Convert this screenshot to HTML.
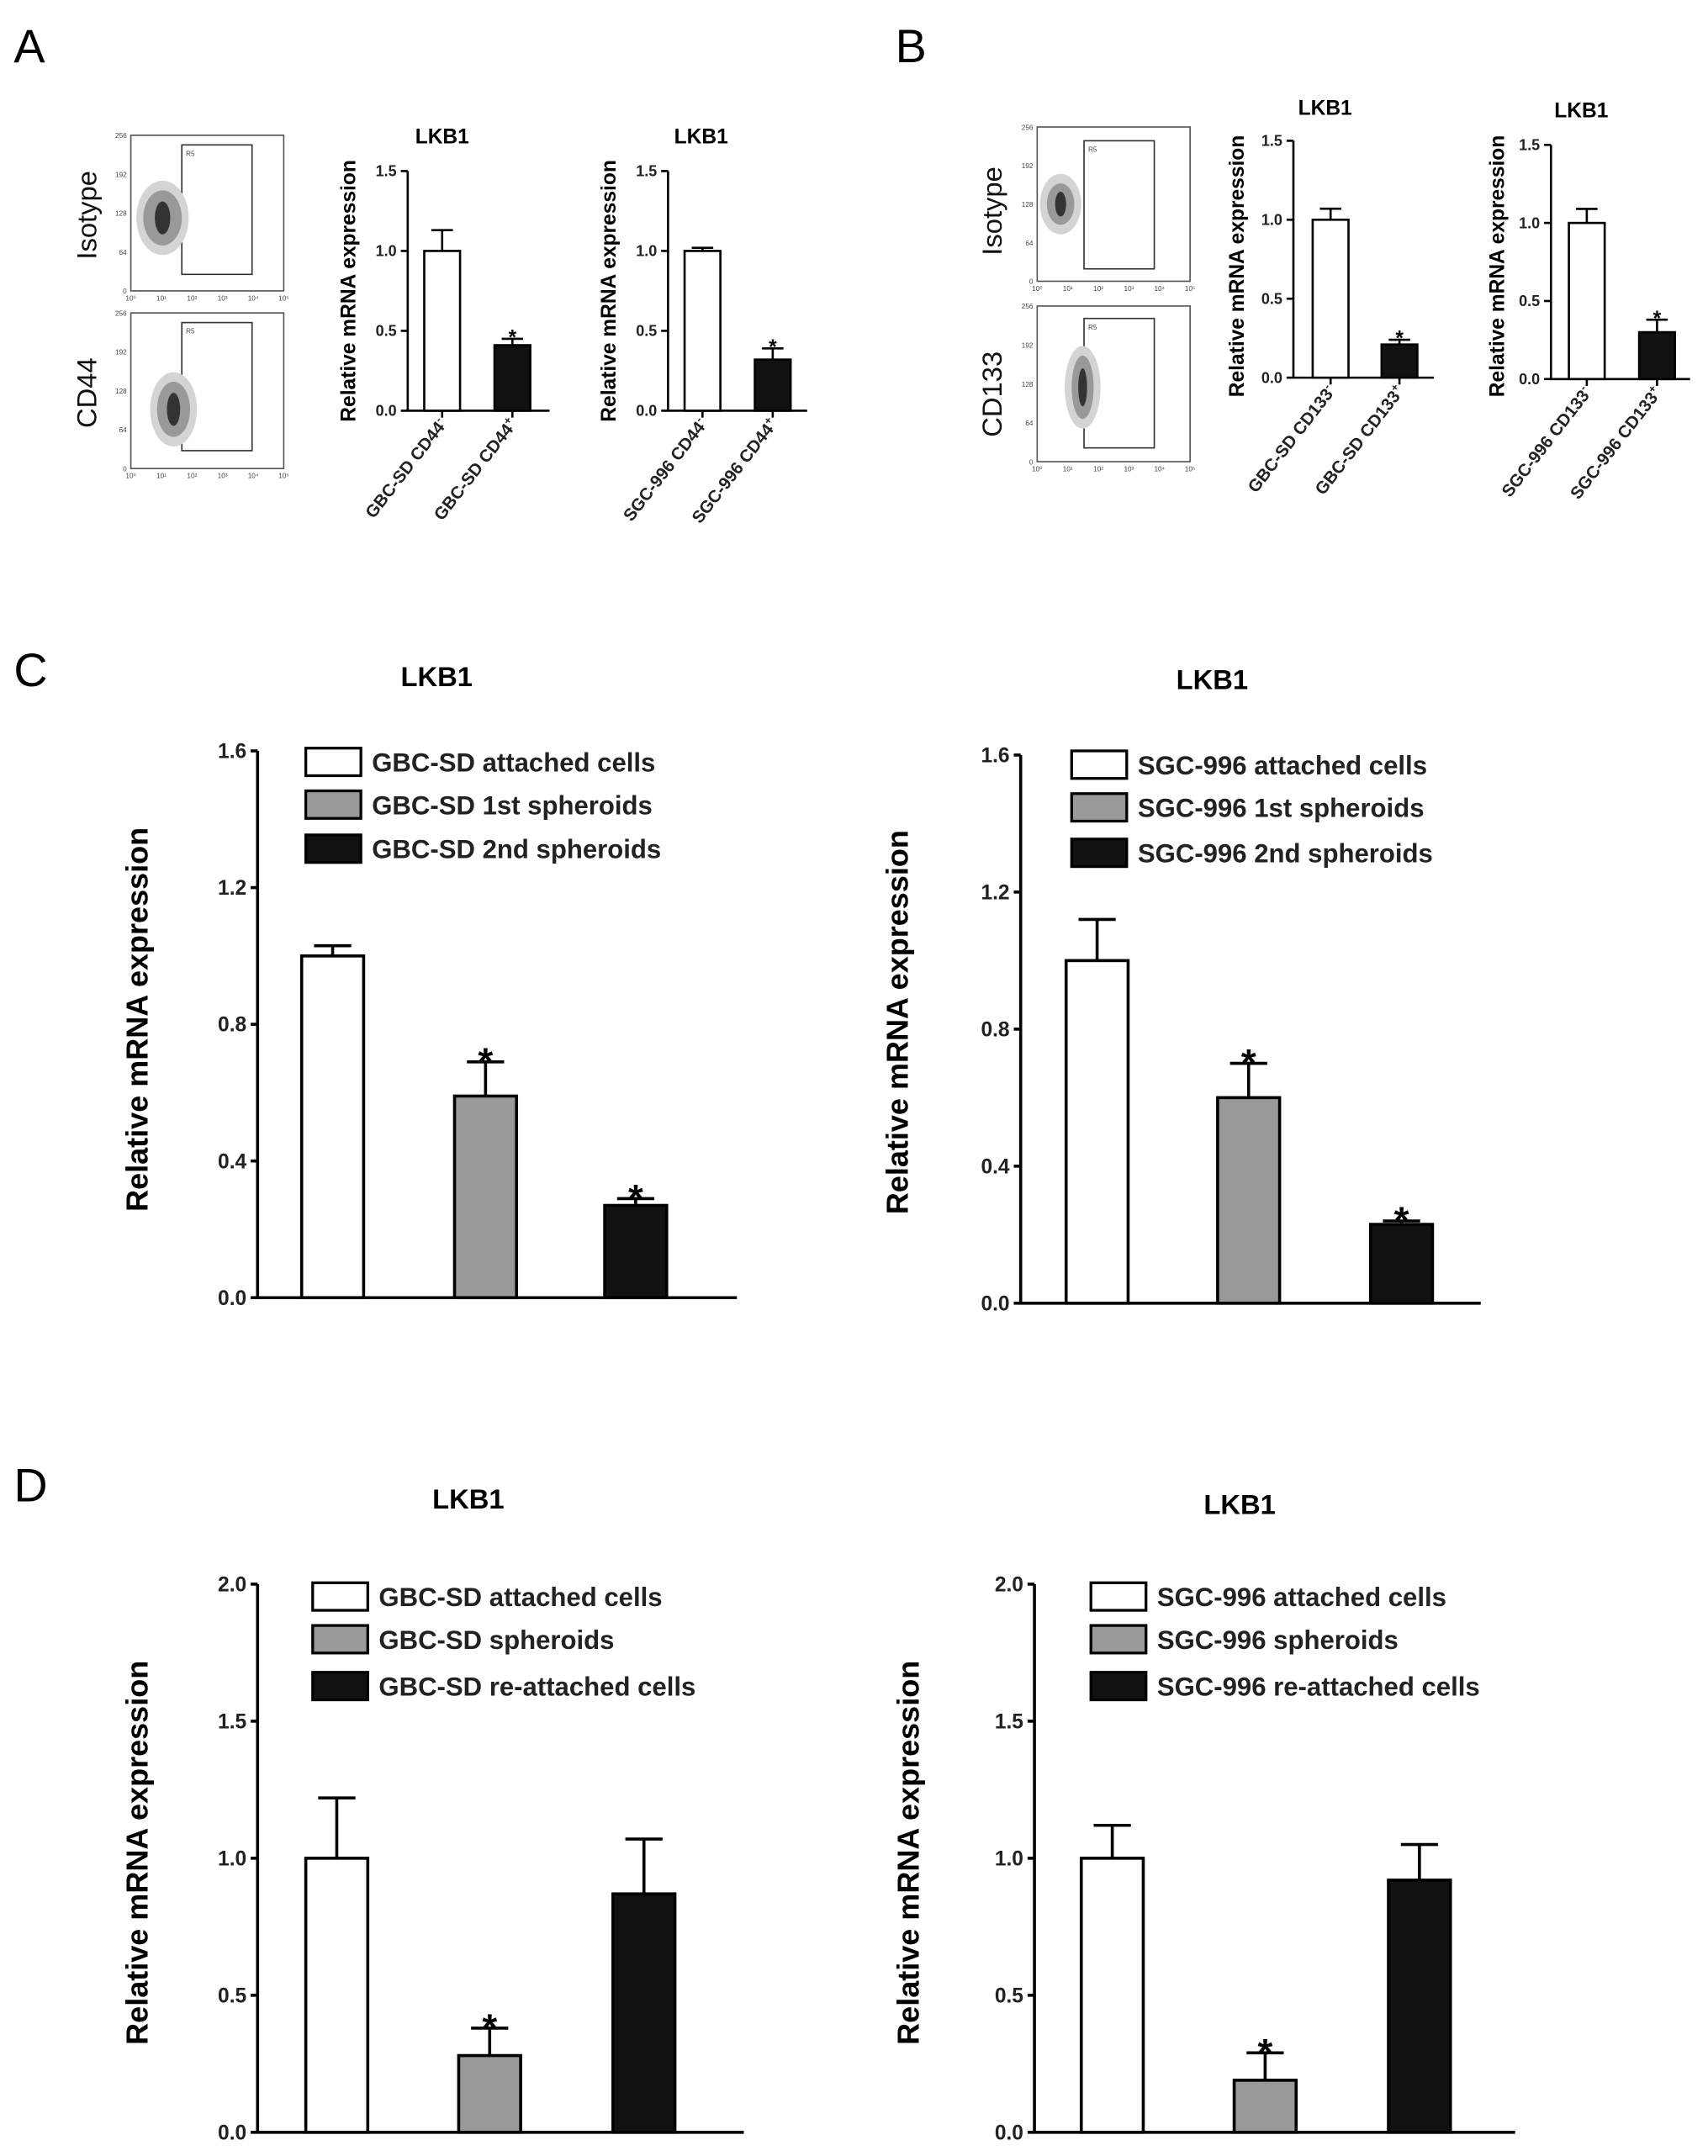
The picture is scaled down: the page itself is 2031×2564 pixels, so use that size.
<!DOCTYPE html>
<html><head><meta charset="utf-8"><style>
html,body{margin:0;padding:0;background:#fff;}
svg{display:block;}
text{font-family:"Liberation Sans",Arial,sans-serif;}
</style></head><body>
<svg id="fig" width="2031" height="2564" viewBox="0 0 1240 1565" xmlns="http://www.w3.org/2000/svg">
<rect x="0" y="0" width="1240" height="1565" fill="#fff"/>
<text x="10" y="45" font-size="34">A</text>
<text x="650" y="45" font-size="34">B</text>
<text x="10" y="498" font-size="34">C</text>
<text x="10" y="1090" font-size="34">D</text>
</svg>
<script>
// ---- data ----
const aCats1 = ["GBC-SD CD44|-", "GBC-SD CD44|+"];
const aVals1 = [1.0, 0.41];
const aErr1 = [0.13, 0.04];
const aSig1 = [false, true];
const aCats2 = ["SGC-996 CD44|-", "SGC-996 CD44|+"];
const aVals2 = [1.0, 0.32];
const aErr2 = [0.02, 0.07];
const aSig2 = [false, true];
const bCats1 = ["GBC-SD CD133|-", "GBC-SD CD133|+"];
const bVals1 = [1.0, 0.21];
const bErr1 = [0.07, 0.03];
const bSig1 = [false, true];
const bCats2 = ["SGC-996 CD133|-", "SGC-996 CD133|+"];
const bVals2 = [1.0, 0.30];
const bErr2 = [0.09, 0.08];
const bSig2 = [false, true];
const cLegend1 = ["GBC-SD attached cells", "GBC-SD 1st spheroids", "GBC-SD 2nd spheroids"];
const cVals1 = [1.0, 0.59, 0.27];
const cErr1 = [0.03, 0.10, 0.02];
const cSig1 = [false, true, true];
const cLegend2 = ["SGC-996 attached cells", "SGC-996 1st spheroids", "SGC-996 2nd spheroids"];
const cVals2 = [1.0, 0.60, 0.23];
const cErr2 = [0.12, 0.10, 0.01];
const cSig2 = [false, true, true];
const dLegend1 = ["GBC-SD attached cells", "GBC-SD spheroids", "GBC-SD re-attached cells"];
const dVals1 = [1.0, 0.28, 0.87];
const dErr1 = [0.22, 0.10, 0.20];
const dSig1 = [false, true, false];
const dLegend2 = ["SGC-996 attached cells", "SGC-996 spheroids", "SGC-996 re-attached cells"];
const dVals2 = [1.0, 0.19, 0.92];
const dErr2 = [0.12, 0.10, 0.13];
const dSig2 = [false, true, false];
const smallTicks = ["0.0", "0.5", "1.0", "1.5"];
const cTicks = ["0.0", "0.4", "0.8", "1.2", "1.6"];
const dTicks = ["0.0", "0.5", "1.0", "1.5", "2.0"];
const flowYTicks = ["0", "64", "128", "192", "256"];
const flowXTicks = ["0", "1", "2", "3", "4", "5"];

const svg = document.getElementById('fig');
const NS = "http://www.w3.org/2000/svg";
function mk(tag, attrs, parent) {
  const e = document.createElementNS(NS, tag);
  for (const k in attrs) e.setAttribute(k, attrs[k]);
  (parent || svg).appendChild(e);
  return e;
}
const fills = ["#fff", "#999", "#111"];

function barChart(L, cats, vals, errs, sigs, ticks, legend, name) {
  const g = mk('g', {});
  
  
  const ymax = parseFloat(ticks[ticks.length - 1]);
  const y = v => L.y0 - (v / ymax) * (L.y0 - L.yTop);
  const ax = mk('path', {d: `M${L.ax},${L.yTop}V${L.y0}H${L.axEnd}`, stroke: '#000', 'stroke-width': L.sw, fill: 'none'}, g);
  
  
  ticks.forEach((t, i) => {
    const ty = y(parseFloat(t));
    mk('line', {x1: L.ax - 5, x2: L.ax, y1: ty, y2: ty, stroke: '#000', 'stroke-width': L.sw}, g);
    const tl = mk('text', {x: L.ax - 8, y: ty + L.tf * 0.35, 'font-size': L.tf, 'font-weight': 'bold', 'text-anchor': 'end', fill: '#222'}, g);
    tl.textContent = t;
    
    
  });
  const yt = mk('text', {x: 0, y: 0, transform: `translate(${L.ytx},${L.yty}) rotate(-90)`, 'font-size': L.ytf, 'font-weight': 'bold', 'text-anchor': 'middle'}, g);
  yt.textContent = 'Relative mRNA expression';
  
  
  const tt = mk('text', {x: L.tx, y: L.ty, 'font-size': L.ttf, 'font-weight': 'bold', 'text-anchor': 'middle'}, g);
  tt.textContent = 'LKB1';
  
  
  vals.forEach((v, i) => {
    const x = L.bx[i], w = L.bw, cx = x + w / 2;
    const fill = L.black2 ? (i === 0 ? '#fff' : '#111') : fills[i];
    const top = y(v + errs[i]);
    const eb = mk('path', {d: `M${cx},${y(v)}V${top}M${cx - w * 0.3},${top}H${cx + w * 0.3}`, stroke: '#000', 'stroke-width': L.sw}, g);
    
    
    const r = mk('rect', {x: x, y: y(v), width: w, height: L.y0 - y(v), fill: fill, stroke: '#000', 'stroke-width': L.sw}, g);
    
    
    if (sigs[i]) {
      const s = mk('text', {x: cx, y: top - 2 + L.sf * 0.4, 'font-size': L.sf, 'font-weight': 'bold', 'text-anchor': 'middle'}, g);
      s.textContent = '*';
      
      
    }
    if (cats) {
      mk('line', {x1: cx, x2: cx, y1: L.y0, y2: L.y0 + 5, stroke: '#000', 'stroke-width': L.sw}, g);
      const parts = cats[i].split('|');
      const xl = mk('text', {x: 0, y: 0, transform: `translate(${cx + 4},${L.y0 + 10}) rotate(-52)`, 'font-size': 12.5, 'font-weight': 'bold', 'text-anchor': 'end', fill: '#222'}, g);
      
      
      const t1 = mk('tspan', {}, xl); t1.textContent = parts[0];
      const t2 = mk('tspan', {'font-size': 8, dy: -5}, xl); t2.textContent = parts[1];
    }
  });
  if (legend) {
    legend.forEach((lab, i) => {
      const ly = L.ly[i];
      const b = mk('rect', {x: L.lx, y: ly, width: L.lw, height: 20, fill: fills[i], stroke: '#000', 'stroke-width': 2}, g);
      
      
      const lt = mk('text', {x: L.lx + L.lw + 8, y: ly + 17, 'font-size': 19, 'font-weight': 'bold', fill: '#222'}, g);
      lt.textContent = lab;
      
      
    });
  }
}

function flow(L, label, blob, name) {
  const g = mk('g', {});
  
  
  const box = mk('rect', {x: L.x, y: L.y, width: L.w, height: L.h, fill: '#fff', stroke: '#555', 'stroke-width': 1}, g);
  
  
  flowYTicks.forEach((t, i) => {
    const ty = L.y + L.h - i * L.h / 4;
    const tl = mk('text', {x: L.x - 3, y: ty + 2, 'font-size': 5, 'text-anchor': 'end', fill: '#444'}, g);
    tl.textContent = t;
  });
  flowXTicks.forEach((t, i) => {
    const tx = L.x + i * L.w / 5;
    const tl = mk('text', {x: tx, y: L.y + L.h + 7, 'font-size': 5, 'text-anchor': 'middle', fill: '#444'}, g);
    tl.textContent = '10' + ['⁰','¹','²','³','⁴','⁵'][i];
  });
  const gate = mk('rect', {x: L.gx, y: L.gy, width: L.gw, height: L.gh, fill: 'none', stroke: '#333', 'stroke-width': 1}, g);
  
  
  const r5 = mk('text', {x: L.gx + 3, y: L.gy + 8, 'font-size': 5, fill: '#444'}, g);
  r5.textContent = 'R5';
  mk('ellipse', {cx: blob[0], cy: blob[1], rx: blob[2] + 5, ry: blob[3] + 7, fill: '#d4d4d4'}, g);
  mk('ellipse', {cx: blob[0], cy: blob[1], rx: blob[2], ry: blob[3], fill: '#999'}, g);
  mk('ellipse', {cx: blob[0], cy: blob[1], rx: blob[2] * 0.4, ry: blob[3] * 0.6, fill: '#333'}, g);
  const lab = mk('text', {x: 0, y: 0, transform: `translate(${L.lx},${L.ly}) rotate(-90)`, 'font-size': 20, 'text-anchor': 'middle', fill: '#111'}, g);
  lab.textContent = label;
  
  
}

flow({x: 95, y: 98, w: 111, h: 113, gx: 132, gy: 105, gw: 51, gh: 94, lx: 70, ly: 156}, 'Isotype', [118, 158, 14, 20], 'flow-a-isotype');
flow({x: 95, y: 227, w: 111, h: 113, gx: 132, gy: 234, gw: 51, gh: 93, lx: 70, ly: 285}, 'CD44', [126, 297, 12, 20], 'flow-a-cd44');
flow({x: 753, y: 92, w: 111, h: 112, gx: 787, gy: 102, gw: 51, gh: 93, lx: 727, ly: 153}, 'Isotype', [770, 148, 10, 15], 'flow-b-isotype');
flow({x: 753, y: 222, w: 111, h: 113, gx: 787, gy: 231, gw: 51, gh: 94, lx: 727, ly: 286}, 'CD133', [786, 281, 8, 23], 'flow-b-cd133');

const smallBase = {sw: 1.6, tf: 11, ytf: 15, ttf: 15, sf: 15, bw: 26, black2: true};
barChart(Object.assign({}, smallBase, {ax: 296, yTop: 124, y0: 298, axEnd: 399, bx: [308, 359], ytx: 258, yty: 211, tx: 321, ty: 104}), aCats1, aVals1, aErr1, aSig1, smallTicks, null, 'chart-a-gbcsd');
barChart(Object.assign({}, smallBase, {ax: 485, yTop: 124, y0: 298, axEnd: 586, bx: [497, 548], ytx: 447, yty: 211, tx: 509, ty: 104}), aCats2, aVals2, aErr2, aSig2, smallTicks, null, 'chart-a-sgc996');
barChart(Object.assign({}, smallBase, {ax: 939, yTop: 102, y0: 274, axEnd: 1041, bx: [953, 1003], ytx: 903, yty: 193, tx: 962, ty: 83}), bCats1, bVals1, bErr1, bSig1, smallTicks, null, 'chart-b-gbcsd');
barChart(Object.assign({}, smallBase, {ax: 1126, yTop: 105, y0: 275, axEnd: 1227, bx: [1139, 1190], ytx: 1092, yty: 193, tx: 1148, ty: 85}), bCats2, bVals2, bErr2, bSig2, smallTicks, null, 'chart-b-sgc996');

const bigBase = {sw: 2.2, tf: 15, ytf: 22, ttf: 20, sf: 28, bw: 45, lw: 40};
barChart(Object.assign({}, bigBase, {ax: 187, yTop: 545, y0: 942, axEnd: 535, bx: [219, 330, 439], ytx: 107, yty: 740, tx: 317, ty: 498, lx: 222, ly: [543, 574, 606]}), null, cVals1, cErr1, cSig1, cTicks, cLegend1, 'chart-c-gbcsd');
barChart(Object.assign({}, bigBase, {ax: 741, yTop: 548, y0: 946, axEnd: 1075, bx: [774, 884, 995], ytx: 659, yty: 742, tx: 880, ty: 500, lx: 778, ly: [545, 576, 609]}), null, cVals2, cErr2, cSig2, cTicks, cLegend2, 'chart-c-sgc996');
barChart(Object.assign({}, bigBase, {ax: 187, yTop: 1150, y0: 1548, axEnd: 540, bx: [222, 333, 445], ytx: 107, yty: 1345, tx: 340, ty: 1095, lx: 227, ly: [1149, 1180, 1214]}), null, dVals1, dErr1, dSig1, dTicks, dLegend1, 'chart-d-gbcsd');
barChart(Object.assign({}, bigBase, {ax: 751, yTop: 1150, y0: 1548, axEnd: 1100, bx: [785, 896, 1008], ytx: 667, yty: 1345, tx: 900, ty: 1099, lx: 792, ly: [1149, 1180, 1214]}), null, dVals2, dErr2, dSig2, dTicks, dLegend2, 'chart-d-sgc996');
</script>
</body></html>
